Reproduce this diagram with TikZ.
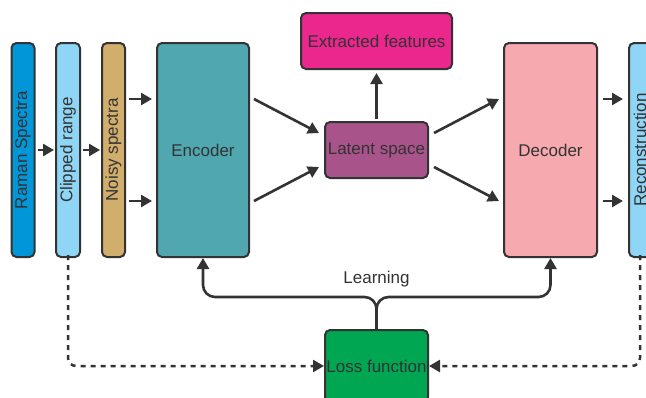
\documentclass[tikz,border=0pt]{standalone}
\usepackage{fontspec}
\setmainfont{Liberation Sans}
\usetikzlibrary{arrows.meta}
\definecolor{ink}{HTML}{333333}
\definecolor{cRaman}{HTML}{0096D8}
\definecolor{cClip}{HTML}{8FD6F6}
\definecolor{cNoisy}{HTML}{D2AE6D}
\definecolor{cEnc}{HTML}{50A7B0}
\definecolor{cExt}{HTML}{EB268D}
\definecolor{cLat}{HTML}{A8538A}
\definecolor{cDec}{HTML}{F6A9AE}
\definecolor{cLoss}{HTML}{00A651}
\tikzset{
  box/.style={draw=ink, line width=2pt, rounded corners=5pt, inner sep=0pt},
  txt/.style={text=ink, font=\fontsize{17}{20}\selectfont, inner sep=0pt},
  arr/.style={draw=ink, line width=2.6pt, -{Triangle[length=11pt,width=12pt]}},
  dasharr/.style={draw=ink, line width=2.5pt, dash pattern=on 5pt off 5pt, -{Triangle[length=11pt,width=12pt]}}
}
\begin{document}
\begin{tikzpicture}[x=1pt,y=-1pt]
\useasboundingbox (0,0) rectangle (646,397);
\clip (0,0) rectangle (646,397);
\fill[white] (0,0) rectangle (646,397);
\coordinate (up) at (0,99);
\coordinate (lo) at (0,201);
% boxes
\node[box, fill=cRaman, minimum width=23pt, minimum height=214pt] (raman) at (23,150) {};
\node[txt, rotate=90] (ramanT) at (raman) {Raman Spectra};
\node[box, fill=cClip, minimum width=24pt, minimum height=214pt] (clip) at (68,150) {};
\node[txt, rotate=90] (clipT) at (clip) {Clipped range};
\node[box, fill=cNoisy, minimum width=23pt, minimum height=214pt] (noisy) at (113.5,150) {};
\node[txt, rotate=90] (noisyT) at (noisy) {Noisy spectra};
\node[box, fill=cEnc, minimum width=92pt, minimum height=214pt] (enc) at (203,150) {};
\node[txt] (encT) at (enc) {Encoder};
\node[box, fill=cExt, minimum width=151pt, minimum height=56pt] (ext) at (376.5,41) {};
\node[txt] (extT) at (ext) {Extracted features};
\node[box, fill=cLat, minimum width=103pt, minimum height=56pt] (lat) at (376.5,150) {};
\node[txt] (latT) at (lat) {Latent space};
\node[box, fill=cDec, minimum width=93pt, minimum height=214pt] (dec) at (550.5,150) {};
\node[txt] (decT) at (dec) {Decoder};
\node[box, fill=cClip, minimum width=22pt, minimum height=214pt] (rec) at (640,150) {};
\node[txt, rotate=90] (recT) at (rec) {Reconstruction};
\node[box, fill=cLoss, minimum width=103pt, minimum height=72pt] (loss) at (376.5,366) {};
\node[txt] (lossT) at (loss) {Loss function};
\node[txt] (learn) at (376.5,279) {Learning};
% arrows
\draw[arr, shorten <=2pt, shorten >=1pt] (raman.east) -- (clip.west);
\draw[arr, shorten <=2pt, shorten >=1pt] (clip.east) -- (noisy.west);
\draw[arr, shorten <=3pt, shorten >=4pt] (noisy.east |- up) -- (enc.west |- up);
\draw[arr, shorten <=3pt, shorten >=4pt] (noisy.east |- lo) -- (enc.west |- lo);
\draw[arr] ([shift={(4,0)}]enc.east |- up) -- ([shift={(-5,-17)}]lat.west);
\draw[arr] ([shift={(4,0)}]enc.east |- lo) -- ([shift={(-5,17)}]lat.west);
\draw[arr, shorten <=2pt, shorten >=3pt] (lat.north) -- (ext.south);
\draw[arr] ([shift={(5,-17)}]lat.east) -- ([shift={(-4,0)}]dec.west |- up);
\draw[arr] ([shift={(5,17)}]lat.east) -- ([shift={(-4,0)}]dec.west |- lo);
\draw[arr, shorten <=5pt, shorten >=5pt] (dec.east |- up) -- (rec.west |- up);
\draw[arr, shorten <=5pt, shorten >=5pt] (dec.east |- lo) -- (rec.west |- lo);
% learning
\draw[arr, rounded corners=12pt] (loss.north) -- ++(0,-32) -| (enc.south);
\draw[arr, rounded corners=12pt] (loss.north) -- ++(0,-32) -| (dec.south);
% dashed
\draw[dasharr, rounded corners=8pt] ([yshift=3pt]clip.south) |- (loss.west);
\draw[dasharr, rounded corners=8pt] ([yshift=3pt]rec.south) |- (loss.east);
\end{tikzpicture}
\end{document}
